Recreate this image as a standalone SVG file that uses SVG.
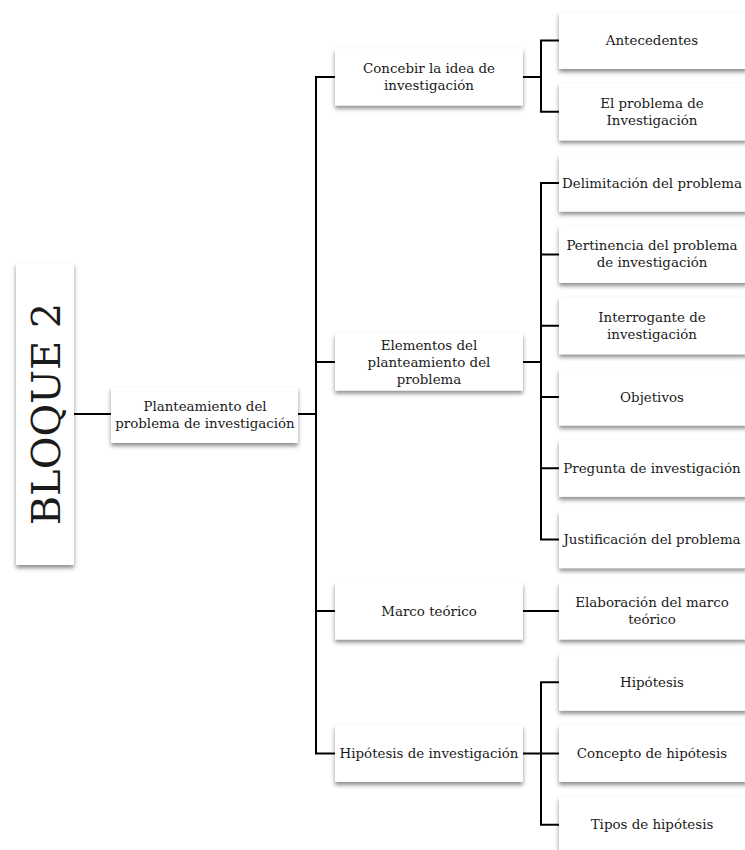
<svg xmlns="http://www.w3.org/2000/svg" width="745" height="850" viewBox="0 0 745 850">
<defs>
<filter id="sh" x="-10%" y="-20%" width="120%" height="150%">
<feDropShadow dx="0" dy="3" stdDeviation="2.2" flood-color="#000" flood-opacity="0.45"/>
</filter>
</defs>
<style>
.box{fill:#fff;filter:url(#sh)}
.t{font-family:"DejaVu Serif","Liberation Serif",serif;font-size:13.4px;fill:#1a1a1a;text-anchor:middle}
.big{font-family:"DejaVu Serif","Liberation Serif",serif;font-size:40px;fill:#1a1a1a;text-anchor:middle}
.c{fill:none;stroke:#000;stroke-width:2}
</style>
<rect width="745" height="850" fill="#fff"/>
<g id="connectors">
<path class="c" d="M74 414H111"/>
<path class="c" d="M298 414H316"/>
<path class="c" d="M335 77H316V753.5H335"/>
<path class="c" d="M316 362H335"/>
<path class="c" d="M316 611H335"/>
<path class="c" d="M523 77H541"/>
<path class="c" d="M559 40.5H541V111.8H559"/>
<path class="c" d="M523 362H541"/>
<path class="c" d="M559 183.1H541V539.6H559"/>
<path class="c" d="M541 254.4H559M541 325.7H559M541 397H559M541 468.3H559"/>
<path class="c" d="M523 611H559"/>
<path class="c" d="M523 753.5H541"/>
<path class="c" d="M559 682.2H541V824.8H559"/>
<path class="c" d="M541 753.5H559"/>
</g>
<g id="bloque2"><rect class="box" x="16" y="263" width="58" height="302"/><text class="big" transform="translate(60,414) rotate(-90)">BLOQUE 2</text></g>
<g id="planteamiento"><rect class="box" x="111" y="387" width="187" height="56"/><text class="t" x="205" y="411">Planteamiento del<tspan x="205" dy="17">problema de investigación</tspan></text></g>
<g id="concebir"><rect class="box" x="335" y="48.5" width="188" height="57"/><text class="t" x="429" y="73">Concebir la idea de<tspan x="429" dy="17">investigación</tspan></text></g>
<g id="elementos"><rect class="box" x="335" y="333.5" width="188" height="57"/><text class="t" x="429" y="349.5">Elementos del<tspan x="429" dy="17">planteamiento del</tspan><tspan x="429" dy="17">problema</tspan></text></g>
<g id="marco"><rect class="box" x="335" y="582.5" width="188" height="57"/><text class="t" x="429" y="615.5">Marco teórico</text></g>
<g id="hipotesis-inv"><rect class="box" x="335" y="725" width="188" height="57"/><text class="t" x="429" y="758">Hipótesis de investigación</text></g>
<g id="antecedentes"><rect class="box" x="559" y="12" width="188" height="57"/><text class="t" x="652" y="45">Antecedentes</text></g>
<g id="el-problema"><rect class="box" x="559" y="83.3" width="188" height="57"/><text class="t" x="652" y="107.8">El problema de<tspan x="652" dy="17">Investigación</tspan></text></g>
<g id="delimitacion"><rect class="box" x="559" y="154.6" width="188" height="57"/><text class="t" x="652" y="187.6">Delimitación del problema</text></g>
<g id="pertinencia"><rect class="box" x="559" y="225.9" width="188" height="57"/><text class="t" x="652" y="250.4">Pertinencia del problema<tspan x="652" dy="17">de investigación</tspan></text></g>
<g id="interrogante"><rect class="box" x="559" y="297.2" width="188" height="57"/><text class="t" x="652" y="321.7">Interrogante de<tspan x="652" dy="17">investigación</tspan></text></g>
<g id="objetivos"><rect class="box" x="559" y="368.5" width="188" height="57"/><text class="t" x="652" y="401.5">Objetivos</text></g>
<g id="pregunta"><rect class="box" x="559" y="439.8" width="188" height="57"/><text class="t" x="652" y="472.8">Pregunta de investigación</text></g>
<g id="justificacion"><rect class="box" x="559" y="511.1" width="188" height="57"/><text class="t" x="652" y="544.1">Justificación del problema</text></g>
<g id="elaboracion"><rect class="box" x="559" y="582.4" width="188" height="57"/><text class="t" x="652" y="606.9">Elaboración del marco<tspan x="652" dy="17">teórico</tspan></text></g>
<g id="hipotesis"><rect class="box" x="559" y="653.7" width="188" height="57"/><text class="t" x="652" y="686.7">Hipótesis</text></g>
<g id="concepto"><rect class="box" x="559" y="725" width="188" height="57"/><text class="t" x="652" y="758">Concepto de hipótesis</text></g>
<g id="tipos"><rect class="box" x="559" y="796.3" width="188" height="57"/><text class="t" x="652" y="829.3">Tipos de hipótesis</text></g>
</svg>
